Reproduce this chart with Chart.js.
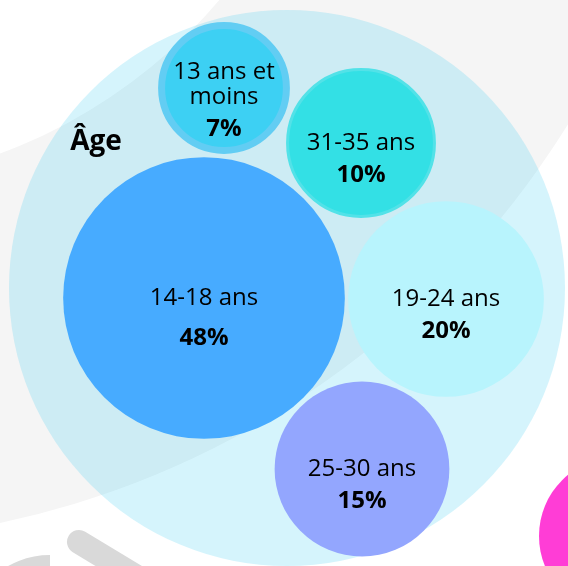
<!DOCTYPE html>
<html>
<head>
<meta charset="utf-8">
<script src="https://cdn.jsdelivr.net/npm/chart.js"></script>
<style>
  html, body { margin: 0; padding: 0; background: #fff; }
  #wrap { width: 568px; height: 566px; }
</style>
</head>
<body>
<div id="wrap"><canvas id="ageChart" width="568" height="566"></canvas></div>
<script>
/* ---------- DATA ---------- */
const groupTitle = "Âge";
const ageLabels = [["14-18 ans"], ["19-24 ans"], ["25-30 ans"], ["31-35 ans"], ["13 ans et", "moins"]];
const agePercent = [48, 20, 15, 10, 7];

// bubble layout (packed inside the group circle)
const bubbleX = [204, 446, 362, 361, 224];
const bubbleY = [298, 299, 469, 143, 88];

/* ---------- STYLE ---------- */
const fills = ["#47abff", "#b8f4fd", "#93a6fe", "#33e0e5", "#3dd0f3"];
const borders = ["#47abff", "#b8f4fd", "#93a6fe", "#52e2e8", "#62cdf3"];
const borderW = [0, 0, 0, 3, 7];
const FONT = "'Open Sans', 'Noto Sans', sans-serif";

// size encoding: radius grows with sqrt(percent)
const sizeOf = v => 17.5 * Math.sqrt(v) + 19.6;

const points = agePercent.map((v, i) => ({
  x: bubbleX[i],
  y: bubbleY[i],
  r: sizeOf(v) - borderW[i] / 2
}));

/* ---------- BACKGROUND DECOR ---------- */
const decor = {
  id: "decor",
  beforeDatasetsDraw(chart) {
    const ctx = chart.ctx;
    ctx.save();
    ctx.fillStyle = "#fff";
    ctx.fillRect(0, 0, chart.width, chart.height);

    // big grey band
    ctx.beginPath();
    ctx.arc(-182, -340, 882, 0, Math.PI * 2);
    ctx.arc(-182, -340, 526, 0, Math.PI * 2, true);
    ctx.fillStyle = "#f5f5f5";
    ctx.fill("evenodd");

    // grey strokes bottom left
    ctx.strokeStyle = "#d9d9d9";
    ctx.lineWidth = 24;
    ctx.lineCap = "round";
    ctx.beginPath();
    ctx.moveTo(79, 542);
    ctx.lineTo(175, 600);
    ctx.stroke();
    ctx.lineCap = "butt";
    ctx.beginPath();
    ctx.arc(50, 640, 73, Math.PI, Math.PI * 1.5);
    ctx.stroke();

    // magenta circle bottom right
    ctx.beginPath();
    ctx.arc(618, 536, 79, 0, Math.PI * 2);
    ctx.fillStyle = "#ff3dd6";
    ctx.fill();
    ctx.restore();
  }
};

/* ---------- LABELS ---------- */
const labels = {
  id: "labels",
  afterDatasetsDraw(chart) {
    const ctx = chart.ctx;
    const meta = chart.getDatasetMeta(0);
    ctx.save();
    ctx.fillStyle = "#000";
    ctx.textAlign = "center";
    ctx.textBaseline = "middle";

    meta.data.forEach((el, i) => {
      const lines = ageLabels[i];
      const top = el.y - (lines.length - 1) * 16;
      ctx.font = "400 24px " + FONT;
      lines.forEach((t, k) => ctx.fillText(t, el.x, top + k * 25));
      const last = top + (lines.length - 1) * 25;
      const gap = el.options.radius > 120 ? 40 : 32;
      ctx.font = "700 24px " + FONT;
      ctx.fillText(agePercent[i] + "%", el.x, last + gap);
    });

    const g = chart.getDatasetMeta(1).data[0];
    ctx.font = "700 28px " + FONT;
    ctx.fillText(groupTitle, g.x - 191, g.y - 146);
    ctx.restore();
  }
};

/* ---------- CHART ---------- */
new Chart(document.getElementById("ageChart"), {
  type: "bubble",
  data: {
    datasets: [
      {
        label: "Âge",
        data: points,
        backgroundColor: fills,
        borderColor: borders,
        borderWidth: borderW,
        hoverRadius: 0,
        order: 0
      },
      {
        label: groupTitle,
        data: [{ x: 287, y: 288, r: 278 }],
        backgroundColor: "rgba(45,200,240,0.2)",
        borderWidth: 0,
        hoverRadius: 0,
        order: 1
      }
    ]
  },
  options: {
    responsive: false,
    animation: false,
    devicePixelRatio: 1,
    layout: { padding: 0, autoPadding: false },
    clip: false,
    scales: {
      x: { type: "linear", min: 0, max: 568, display: false },
      y: { type: "linear", min: 0, max: 566, reverse: true, display: false }
    },
    plugins: {
      legend: { display: false },
      tooltip: { enabled: false }
    }
  },
  plugins: [decor, labels]
});
</script>
</body>
</html>
